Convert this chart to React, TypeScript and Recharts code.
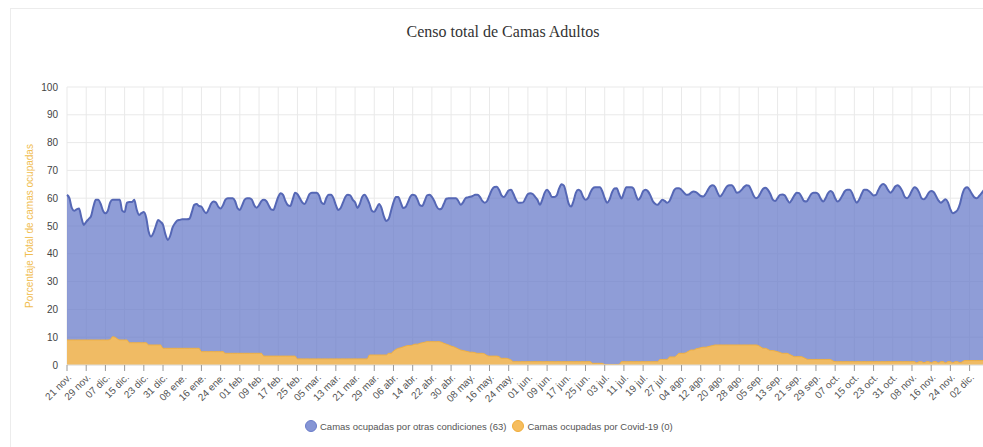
import { AreaChart, Area, XAxis, YAxis, CartesianGrid } from "recharts";

// one label every 8 days, starting 21 nov.
const TICK_LABELS = [
  "21 nov.", "29 nov.", "07 dic.", "15 dic.", "23 dic.", "31 dic.", "08 ene.", "16 ene.",
  "24 ene.", "01 feb.", "09 feb.", "17 feb.", "25 feb.", "05 mar.", "13 mar.", "21 mar.",
  "29 mar.", "06 abr.", "14 abr.", "22 abr.", "30 abr.", "08 may.", "16 may.", "24 may.",
  "01 jun.", "09 jun.", "17 jun.", "25 jun.", "03 jul.", "11 jul.", "19 jul.", "27 jul.",
  "04 ago.", "12 ago.", "20 ago.", "28 ago.", "05 sep.", "13 sep.", "21 sep.", "29 sep.",
  "07 oct.", "15 oct.", "23 oct.", "31 oct.", "08 nov.", "16 nov.", "24 nov.", "02 dic.",
];

const Y_TICKS = [0, 10, 20, 30, 40, 50, 60, 70, 80, 90, 100];

// daily % of beds, other conditions
const OTRAS = [
  61.2, 60, 56.5, 55.5, 56, 56.3, 53, 50.4,
  51.5, 52.5, 53.5, 57, 59.4, 59.4, 58, 55.5,
  54.6, 55.5, 58.5, 59.4, 59.4, 59.4, 59.4, 55.5,
  55, 58.4, 58.6, 58.6, 59.4, 56, 54, 54.6,
  55, 53, 48, 46.2, 47.5, 50, 52.2, 51.5,
  50.4, 47, 45, 46.5, 49.5, 51, 52, 52.2,
  52.4, 52.4, 52.4, 52.6, 55, 57.6, 57.9, 57.2,
  57, 55.5, 54.6, 56, 58, 58.8, 58.5, 57,
  56.3, 57.5, 59.5, 60, 60, 60, 59, 56.5,
  55.8, 57.5, 59.5, 60, 60, 59.5, 57.5, 56.6,
  57.5, 59, 59.4, 59, 57.5, 56, 55.8, 58,
  60.5, 61.8, 61.2, 59, 57.5, 57.2, 59.5, 62,
  61.5, 60, 58.5, 57.9, 59.5, 61.5, 62, 62,
  62, 61, 58.5, 57.9, 60, 61.2, 61.2, 60,
  57.5, 55.8, 56.5, 58.5, 60.5, 61.2, 61, 59.5,
  58.5, 56.5, 58, 60.5, 61.2, 60, 58, 55.5,
  55.1, 56.5, 57.9, 56.5, 53.5, 51.8, 52.5, 55.5,
  58.5, 60.4, 60.4, 58.5, 56.5, 56.8, 58.5, 60.5,
  61.2, 61, 59.5, 57.5, 57.2, 59, 61, 61.2,
  60.5, 59, 57, 56, 56.2, 58, 59.8, 60,
  60, 60, 60, 59, 57.6, 58.5, 60, 60.3,
  60.5, 60.8, 61.2, 61.2, 60.5, 59, 58.4, 59,
  61, 63, 64, 64.1, 63, 61, 60.4, 61.5,
  62.8, 63, 61.5, 59.5, 58.4, 58.4, 58.5, 60,
  61.5, 61.8, 61.5, 60.5, 59.4, 57.6, 59.5, 62,
  63, 62, 60.4, 60.4, 61, 63.5, 65, 64.5,
  61.5, 58, 57, 59, 62, 63, 62.5, 60.5,
  59.4, 60, 62, 63.5, 63.9, 63.9, 63.9, 62.5,
  60, 58.4, 59.5, 62, 63.5, 63.6, 61.5, 59.9,
  62, 63.9, 63.9, 63.9, 63.5, 61, 59.4, 60.5,
  62.5, 63, 62.5, 61, 59, 58, 57.6, 58.5,
  59.4, 59, 58.4, 59, 61, 63, 63.6, 63.6,
  63, 62, 61.2, 61.3, 62, 62.4, 62.2, 61.5,
  60.8, 60.6, 61.5, 63, 64.3, 64.7, 64, 62,
  60.6, 61.5, 63, 64.3, 64.7, 64.7, 63.5, 62,
  62.2, 63, 64, 64.7, 64.5, 63, 61, 60,
  60.5, 62, 63.4, 63.8, 63, 61.5, 59.5, 59,
  60, 61.2, 61.3, 61, 59.5, 58.4, 59.5, 61,
  62, 61.8, 60.5, 59, 58.8, 60, 61.5, 62,
  62, 61.5, 59.8, 58.8, 60, 61.8, 62.6, 62,
  60, 58.8, 59.5, 61, 62.5, 63, 63, 62,
  59.8, 58.4, 59.5, 61.5, 63, 63, 62.6, 61.8,
  61, 61.2, 63, 64.5, 65.1, 64.5, 63, 62,
  62.8, 64.2, 64.7, 64, 62.5, 60.5, 60, 61,
  62.8, 63.9, 63.5, 62, 60, 59.6, 60.5, 62,
  62.6, 62.2, 60.8, 59.2, 58.4, 59, 59.6, 58.5,
  56, 54.6, 55, 55.8, 58, 61.5, 63.5, 63.9,
  63, 61.5, 60.3, 60, 60.8, 61.8, 63,
];

// daily % of beds, Covid-19
const COVID = [
  9, 9, 9, 9, 9, 9, 9, 9,
  9, 9, 9, 9, 9, 9, 9, 9,
  9, 9, 9.2, 10.2, 10, 9.4, 9, 9,
  9, 9, 8, 8, 8, 8, 8, 8,
  8, 8, 7.2, 7.2, 7.2, 7.2, 7.2, 7.2,
  6, 6, 6, 6, 6, 6, 6, 6,
  6, 6, 6, 6, 6, 6, 6, 6,
  4.8, 4.8, 4.8, 4.8, 4.8, 4.8, 4.8, 4.8,
  4.8, 4.8, 4.2, 4.2, 4.2, 4.2, 4.2, 4.2,
  4.2, 4.2, 4.2, 4.2, 4.2, 4.2, 4.2, 4.2,
  4.2, 4.2, 3.2, 3.2, 3.2, 3.2, 3.2, 3.2,
  3.2, 3.2, 3.2, 3.2, 3.2, 3.2, 3.2, 3.2,
  2.2, 2.2, 2.2, 2.2, 2.2, 2.2, 2.2, 2.2,
  2.2, 2.2, 2.2, 2.2, 2.2, 2.2, 2.2, 2.2,
  2.2, 2.2, 2.2, 2.2, 2.2, 2.2, 2.2, 2.2,
  2.2, 2.2, 2.2, 2.2, 2.2, 2.2, 3.6, 3.6,
  3.6, 3.6, 3.6, 3.6, 3.6, 3.6, 4.2, 4.2,
  5, 5.6, 6, 6.2, 6.5, 6.8, 7, 7,
  7.2, 7.5, 7.5, 7.8, 8, 8.2, 8.4, 8.4,
  8.4, 8.4, 8.4, 8.4, 8.2, 7.8, 7.5, 7.2,
  6.8, 6.6, 6.2, 5.8, 5.4, 5.2, 5, 4.8,
  4.6, 4.6, 4.4, 4.2, 4.2, 4.2, 4, 3.4,
  3.2, 3.2, 3.2, 3.2, 3, 2.4, 2.4, 2.4,
  2.2, 1.8, 1.2, 1.2, 1.2, 1.2, 1.2, 1.2,
  1.2, 1.2, 1.2, 1.2, 1.2, 1.2, 1.2, 1.2,
  1.2, 1.2, 1.2, 1.2, 1.2, 1.2, 1.2, 1.2,
  1.2, 1.2, 1.2, 1.2, 1.2, 1.2, 1.2, 1.2,
  1.2, 1.2, 1.2, 0.6, 0.6, 0.6, 0.6, 0.6,
  0.2, 0.2, 0.2, 0.2, 0.2, 0.2, 0.2, 1.2,
  1.2, 1.2, 1.2, 1.2, 1.2, 1.2, 1.2, 1.2,
  1.2, 1.2, 1.2, 1.2, 1.2, 1.2, 1.2, 2,
  2, 2, 2, 2.9, 2.9, 2.9, 3.5, 4.2,
  4.2, 4.2, 4.5, 5, 5.4, 5.4, 5.8, 6,
  6.2, 6.4, 6.4, 6.6, 6.8, 7, 7.2, 7.2,
  7.2, 7.2, 7.2, 7.2, 7.2, 7.2, 7.2, 7.2,
  7.2, 7.2, 7.2, 7.2, 7.2, 7.2, 7.2, 7.2,
  7, 6.5, 6, 6, 5.6, 5.2, 5.2, 5,
  4.8, 4.5, 4.2, 4.2, 4.2, 3.8, 3.4, 3,
  3, 3, 3, 2.6, 2.2, 2, 2, 2,
  2, 2, 2, 2, 2, 2, 2, 1.5,
  1.2, 1.2, 1.2, 1.2, 1.2, 1.2, 1.2, 1.2,
  1.2, 1.2, 1.2, 1.2, 1.2, 1.2, 1.2, 1.2,
  1.2, 1.2, 1.2, 1.2, 1.2, 1.2, 1.2, 1.2,
  1.2, 1.2, 1.2, 1.2, 1.2, 1.2, 1.2, 1.2,
  1.2, 1.2, 0.8, 1.2, 1.2, 0.8, 1.2, 1.2,
  0.8, 1.2, 1.2, 0.8, 1.2, 1.2, 0.8, 1.2,
  1.2, 0.8, 1.2, 1.2, 0.8, 1.2, 1.6, 1.6,
  1.6, 1.6, 1.6, 1.6, 1.6, 1.6, 1.6,
];

const data = OTRAS.map((v, i) => ({ day: i, otras: v, covid: COVID[i] }));
const xTicks = TICK_LABELS.map((_, i) => i * 8);

const XTick = ({ x, y, payload }: any) => {
  const tx = x + 5;
  const ty = y + 5;
  return (
    <text
      x={tx}
      y={ty}
      transform={`rotate(-45, ${tx}, ${ty})`}
      textAnchor="end"
      fontSize={10}
      fill="#555"
    >
      {TICK_LABELS[Math.round(payload.value / 8)]}
    </text>
  );
};

const YLabel = ({ viewBox }: any) => {
  const cy = viewBox ? viewBox.y + viewBox.height / 2 : 226;
  return (
    <text
      x={33}
      y={cy}
      transform={`rotate(-90, 33, ${cy})`}
      textAnchor="middle"
      fontSize={10}
      fill="#f0bd50"
    >
      Porcentaje Total de camas ocupadas
    </text>
  );
};

export default function App() {
  return (
    <div
      style={{
        position: "relative",
        width: 983,
        height: 447,
        overflow: "hidden",
        background: "#fff",
        fontFamily: "Arial, 'Liberation Sans', sans-serif",
      }}
    >
      <style>{"body{margin:0;overflow:hidden}"}</style>
      <div
        style={{
          position: "absolute",
          left: 10,
          top: 8,
          width: 1000,
          height: 500,
          border: "1px solid #ececec",
        }}
      />
      <div
        style={{
          position: "absolute",
          left: 0,
          top: 22,
          width: 1006,
          textAlign: "center",
          fontFamily: "'Liberation Serif', serif",
          fontSize: 16,
          lineHeight: "20px",
          color: "#333",
        }}
      >
        Censo total de Camas Adultos
      </div>
      <div style={{ position: "absolute", left: 0, top: 0 }}>
        <AreaChart
          width={1000}
          height={447}
          data={data}
          margin={{ top: 87, right: 16, bottom: 32, left: 17 }}
        >
          <CartesianGrid stroke="#e9e9e9" />
          <XAxis
            dataKey="day"
            type="number"
            domain={[0, 382]}
            ticks={xTicks}
            interval={0}
            height={50}
            tick={<XTick />}
            tickSize={6}
            tickLine={{ stroke: "#999" }}
            axisLine={{ stroke: "#ddd" }}
          />
          <YAxis
            domain={[0, 100]}
            ticks={Y_TICKS}
            width={50}
            axisLine={false}
            tickLine={false}
            tickSize={0}
            tickMargin={9}
            tick={{ fontSize: 10, fill: "#444" }}
            label={<YLabel />}
          />
          <Area
            type="monotone"
            dataKey="otras"
            stroke="#5567b5"
            strokeWidth={2}
            fill="#6a7cc9"
            fillOpacity={0.75}
            dot={false}
            activeDot={false}
            isAnimationActive={false}
          />
          <Area
            type="monotone"
            dataKey="covid"
            stroke="#f0b040"
            strokeWidth={1}
            fill="#f6bd5e"
            fillOpacity={0.95}
            dot={false}
            activeDot={false}
            isAnimationActive={false}
          />
        </AreaChart>
      </div>
      <div
        style={{
          position: "absolute",
          left: 305,
          top: 420,
          display: "flex",
          alignItems: "center",
          fontSize: 9.5,
          color: "#555",
          whiteSpace: "nowrap",
        }}
      >
        <span
          style={{
            width: 12,
            height: 12,
            borderRadius: "50%",
            background: "#8595d5",
            border: "1px solid #6a7cc9",
            boxSizing: "border-box",
            marginRight: 3,
          }}
        />
        <span>Camas ocupadas por otras condiciones (63)</span>
        <span
          style={{
            width: 12,
            height: 12,
            borderRadius: "50%",
            background: "#f6bd5e",
            border: "1px solid #f0ad3a",
            boxSizing: "border-box",
            marginLeft: 6,
            marginRight: 3,
          }}
        />
        <span>Camas ocupadas por Covid-19 (0)</span>
      </div>
    </div>
  );
}
